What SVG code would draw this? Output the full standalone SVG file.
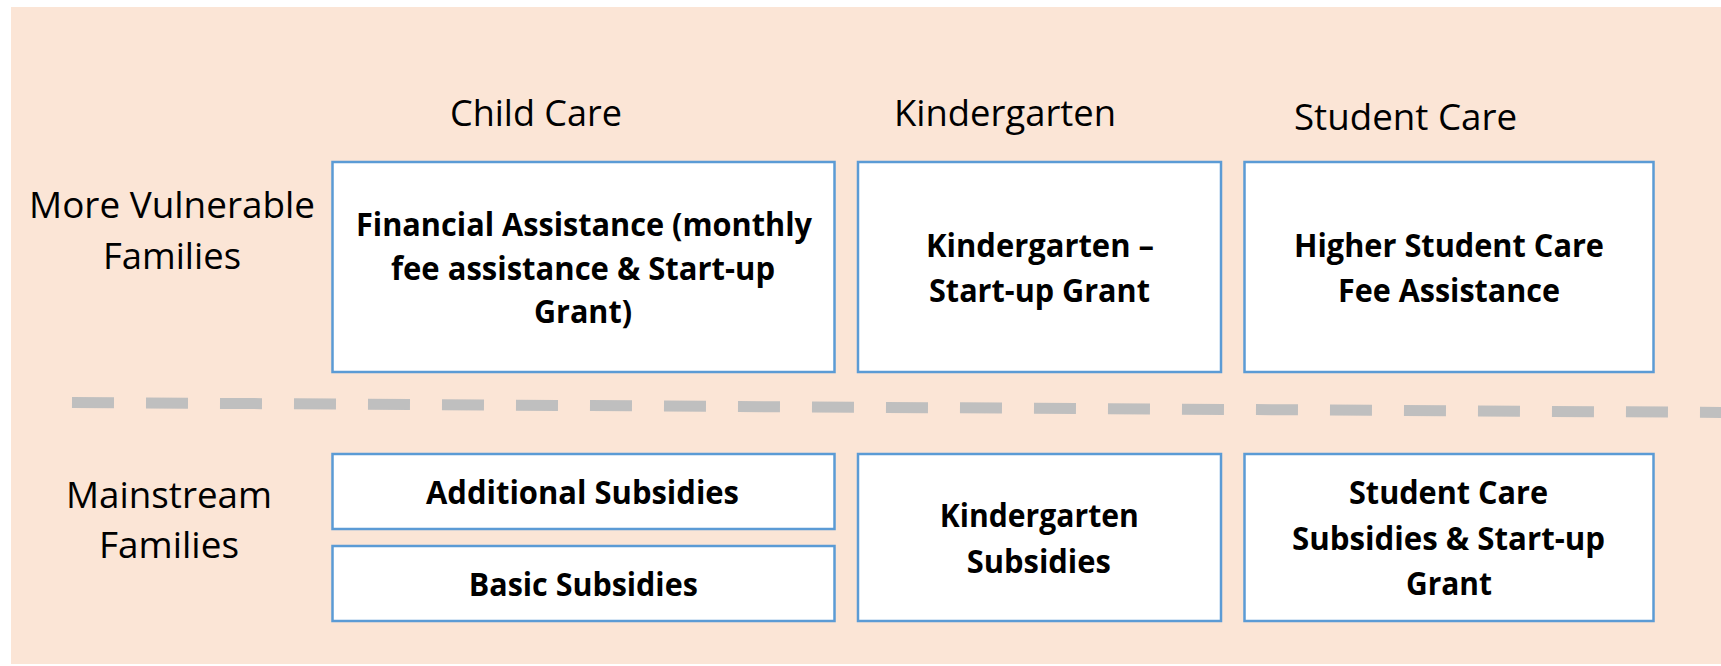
<svg xmlns="http://www.w3.org/2000/svg" width="1721" height="666" viewBox="0 0 1721 666">
  <style>
    .box { fill: #ffffff; stroke: #5B9BD5; stroke-width: 2.5; }
    .lbl { font-family: "Open Sans", "Liberation Sans", sans-serif; font-size: 37px; fill: #000000; text-anchor: middle; }
    .bt { font-family: "Open Sans", "Liberation Sans", sans-serif; font-size: 33px; font-weight: bold; fill: #000000; text-anchor: middle; }
    .sep { stroke: #BFBFBF; stroke-width: 11; stroke-dasharray: 42 32; fill: none; }
  </style>
  <rect x="0" y="0" width="1721" height="666" fill="#ffffff"/>
  <rect id="background" x="11" y="7" width="1710" height="657" fill="#FBE5D6"/>

  <g id="headers">
    <text class="lbl" x="536" y="126" textLength="172" lengthAdjust="spacingAndGlyphs">Child Care</text>
    <text class="lbl" x="1005" y="126" textLength="222" lengthAdjust="spacingAndGlyphs">Kindergarten</text>
    <text class="lbl" x="1405.5" y="130" textLength="223" lengthAdjust="spacingAndGlyphs">Student Care</text>
  </g>

  <g id="row-labels">
    <text class="lbl" x="172" y="218" textLength="286" lengthAdjust="spacingAndGlyphs">More Vulnerable</text>
    <text class="lbl" x="172" y="269" textLength="138" lengthAdjust="spacingAndGlyphs">Families</text>
    <text class="lbl" x="169" y="508" textLength="206" lengthAdjust="spacingAndGlyphs">Mainstream</text>
    <text class="lbl" x="169" y="558" textLength="140" lengthAdjust="spacingAndGlyphs">Families</text>
  </g>

  <g id="connectors">
    <line id="separator" class="sep" x1="72" y1="402.5" x2="1721" y2="412.4"/>
  </g>

  <g id="node-financial-assistance">
    <rect class="box" x="332.5" y="162" width="502" height="210"/>
    <text class="bt" x="584" y="236" textLength="456" lengthAdjust="spacingAndGlyphs">Financial Assistance (monthly</text>
    <text class="bt" x="583" y="279.5" textLength="384" lengthAdjust="spacingAndGlyphs">fee assistance &amp; Start-up</text>
    <text class="bt" x="583" y="323" textLength="98" lengthAdjust="spacingAndGlyphs">Grant)</text>
  </g>

  <g id="node-kindergarten-startup">
    <rect class="box" x="858" y="162" width="363" height="210"/>
    <text class="bt" x="1040" y="257" textLength="228" lengthAdjust="spacingAndGlyphs">Kindergarten –</text>
    <text class="bt" x="1039.5" y="302" textLength="221" lengthAdjust="spacingAndGlyphs">Start-up Grant</text>
  </g>

  <g id="node-higher-student-care">
    <rect class="box" x="1244.5" y="162" width="409" height="210"/>
    <text class="bt" x="1449" y="257" textLength="310" lengthAdjust="spacingAndGlyphs">Higher Student Care</text>
    <text class="bt" x="1449" y="302" textLength="222" lengthAdjust="spacingAndGlyphs">Fee Assistance</text>
  </g>

  <g id="node-additional-subsidies">
    <rect class="box" x="332.5" y="454" width="502" height="75"/>
    <text class="bt" x="582.5" y="504" textLength="313" lengthAdjust="spacingAndGlyphs">Additional Subsidies</text>
  </g>

  <g id="node-basic-subsidies">
    <rect class="box" x="332.5" y="546" width="502" height="75"/>
    <text class="bt" x="583.3" y="595.7" textLength="229" lengthAdjust="spacingAndGlyphs">Basic Subsidies</text>
  </g>

  <g id="node-kindergarten-subsidies">
    <rect class="box" x="858" y="454" width="363" height="167"/>
    <text class="bt" x="1039.3" y="527" textLength="199" lengthAdjust="spacingAndGlyphs">Kindergarten</text>
    <text class="bt" x="1038.8" y="572.7" textLength="144" lengthAdjust="spacingAndGlyphs">Subsidies</text>
  </g>

  <g id="node-student-care-subsidies">
    <rect class="box" x="1244.5" y="454" width="409" height="167"/>
    <text class="bt" x="1448.5" y="504" textLength="199" lengthAdjust="spacingAndGlyphs">Student Care</text>
    <text class="bt" x="1448.5" y="550" textLength="313" lengthAdjust="spacingAndGlyphs">Subsidies &amp; Start-up</text>
    <text class="bt" x="1449" y="595" textLength="86" lengthAdjust="spacingAndGlyphs">Grant</text>
  </g>
</svg>
